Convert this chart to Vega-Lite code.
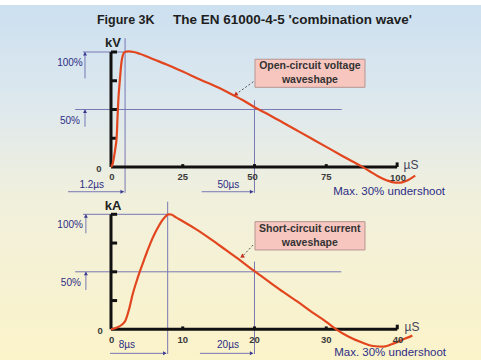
{
  "$schema": "https://vega.github.io/schema/vega-lite/v6.json",
  "background": "white",
  "padding": 0,
  "spacing": 0,
  "bounds": "flush",
  "config": {
    "view": {"stroke": null},
    "text": {"font": "Liberation Sans"}
  },
  "datasets": {
    "v_curve": [
      {"t": 0, "v": 0}, {"t": 0.5, "v": 2}, {"t": 1, "v": 8}, {"t": 1.5, "v": 16}, {"t": 2, "v": 27},
      {"t": 2.3, "v": 45}, {"t": 2.6, "v": 60}, {"t": 3.1, "v": 76}, {"t": 3.6, "v": 90}, {"t": 4.1, "v": 97},
      {"t": 4.8, "v": 100}, {"t": 6, "v": 100.5}, {"t": 8, "v": 100}, {"t": 10, "v": 98.5}, {"t": 15, "v": 93.5},
      {"t": 20, "v": 88.5}, {"t": 25, "v": 83}, {"t": 31, "v": 76}, {"t": 37, "v": 69.5}, {"t": 42.5, "v": 62.6},
      {"t": 46, "v": 58}, {"t": 50, "v": 52}, {"t": 55, "v": 45.5}, {"t": 60, "v": 38.5}, {"t": 65, "v": 31.5},
      {"t": 70, "v": 24.5}, {"t": 75, "v": 17.5}, {"t": 80, "v": 10.5}, {"t": 84, "v": 5}, {"t": 87.5, "v": 0.3},
      {"t": 90, "v": -3.5}, {"t": 93, "v": -8}, {"t": 96, "v": -11.5}, {"t": 99, "v": -13.5}, {"t": 101, "v": -13.5},
      {"t": 103, "v": -12}, {"t": 106, "v": -7.5}
    ],
    "v_black": [
      {"t": 0, "v": 0, "t2": 0, "v2": 100},
      {"t": 0, "v": 100, "t2": 2.1, "v2": 100},
      {"t": 0, "v": 75, "t2": 2.1, "v2": 75},
      {"t": 0, "v": 50, "t2": 2.1, "v2": 50},
      {"t": 0, "v": 25, "t2": 2.1, "v2": 25},
      {"t": 0, "v": 0, "t2": 99.7, "v2": 0},
      {"t": 25, "v": 0, "t2": 25, "v2": 2.5},
      {"t": 50, "v": 0, "t2": 50, "v2": 2.5},
      {"t": 75, "v": 0, "t2": 75, "v2": 2.5},
      {"t": 99.7, "v": 0, "t2": 99.7, "v2": 4}
    ],
    "v_blue": [
      {"t": 4.9, "v": -22.5, "t2": 4.9, "v2": 112},
      {"t": 50, "v": -22.5, "t2": 50, "v2": 58},
      {"t": -9.75, "v": 100, "t2": 4.9, "v2": 100},
      {"t": -12.5, "v": 50, "t2": 80.4, "v2": 50},
      {"t": -9.06, "v": 100, "t2": -9.06, "v2": 77},
      {"t": -9.06, "v": 50, "t2": -9.06, "v2": 35},
      {"t": -15, "v": -21.5, "t2": 4.5, "v2": -21.5},
      {"t": 31.6, "v": -21.5, "t2": 49.6, "v2": -21.5}
    ],
    "v_arrows": [
      {"t": -9.06, "v": 98.5, "dir": "up"},
      {"t": -9.06, "v": 48.5, "dir": "up"},
      {"t": 3.9, "v": -21.5, "dir": "right"},
      {"t": 49, "v": -21.5, "dir": "right"}
    ],
    "v_box": [{"t": 50.17, "v": 93.7, "t2": 88.5, "v2": 69.3}],
    "v_link": [{"t": 49.6, "v": 74.2, "t2": 43.6, "v2": 63.4}],
    "v_tip": [{"t": 43.4, "v": 63}],
    "v_boxtext": [
      {"t": 69.3, "v": 87.6, "text": "Open-circuit voltage"},
      {"t": 69.3, "v": 75.4, "text": "waveshape"}
    ],
    "v_title1": [{"t": -4.9, "v": 127.8, "text": "Figure 3K"}],
    "v_title2": [{"t": 21.6, "v": 127.8, "text": "The EN 61000-4-5 'combination wave'"}],
    "v_unit": [{"t": 0.7, "v": 107.8, "text": "kV"}],
    "v_pct": [
      {"t": -14.3, "v": 90.4, "text": "100%"},
      {"t": -14.3, "v": 40, "text": "50%"},
      {"t": -6.7, "v": -15.7, "text": "1.2µs"},
      {"t": 40.9, "v": -15.7, "text": "50µs"}
    ],
    "v_ticks": [
      {"t": -4.2, "v": -1.7, "text": "0"},
      {"t": 0.3, "v": -8.7, "text": "0"},
      {"t": 25, "v": -8.7, "text": "25"},
      {"t": 49.3, "v": -8.7, "text": "50"},
      {"t": 75, "v": -8.7, "text": "75"},
      {"t": 100, "v": -9.2, "text": "100"}
    ],
    "v_unitx": [{"t": 104.5, "v": 1.7, "text": "µS"}],
    "v_note": [{"t": 96.9, "v": -21.5, "text": "Max. 30% undershoot"}],

    "c_curve": [
      {"t": 0, "v": 0}, {"t": 1, "v": 2}, {"t": 1.5, "v": 4}, {"t": 2, "v": 7.5}, {"t": 2.5, "v": 17},
      {"t": 3, "v": 30}, {"t": 3.5, "v": 40.5}, {"t": 4, "v": 50}, {"t": 4.5, "v": 58.5}, {"t": 5, "v": 67},
      {"t": 5.5, "v": 75}, {"t": 6, "v": 82}, {"t": 6.5, "v": 88}, {"t": 7, "v": 93.5}, {"t": 7.5, "v": 97.5},
      {"t": 8, "v": 100}, {"t": 8.4, "v": 99.8}, {"t": 9, "v": 97.5}, {"t": 10, "v": 94}, {"t": 12, "v": 86.5},
      {"t": 14, "v": 78}, {"t": 16, "v": 69}, {"t": 18, "v": 60}, {"t": 20, "v": 50.5}, {"t": 22, "v": 41.5},
      {"t": 24, "v": 32.5}, {"t": 26, "v": 24}, {"t": 28, "v": 15}, {"t": 30, "v": 6.5}, {"t": 31.4, "v": 0},
      {"t": 33, "v": -6}, {"t": 35, "v": -11.5}, {"t": 36.5, "v": -14.5}, {"t": 38, "v": -15}, {"t": 39.5, "v": -12},
      {"t": 41, "v": -8}, {"t": 42, "v": -5.5}
    ],
    "c_black": [
      {"t": 0, "v": 0, "t2": 0, "v2": 100},
      {"t": 0, "v": 100, "t2": 0.85, "v2": 100},
      {"t": 0, "v": 75, "t2": 0.85, "v2": 75},
      {"t": 0, "v": 50, "t2": 0.85, "v2": 50},
      {"t": 0, "v": 25, "t2": 0.85, "v2": 25},
      {"t": 0, "v": 0, "t2": 39.9, "v2": 0},
      {"t": 10, "v": 0, "t2": 10, "v2": 2.5},
      {"t": 20, "v": 0, "t2": 20, "v2": 2.5},
      {"t": 30, "v": 0, "t2": 30, "v2": 2.5},
      {"t": 39.9, "v": 0, "t2": 39.9, "v2": 4}
    ],
    "c_blue": [
      {"t": 7.9, "v": -21.5, "t2": 7.9, "v2": 111},
      {"t": 20, "v": -21.5, "t2": 20, "v2": 58.8},
      {"t": -3.9, "v": 100, "t2": 7.9, "v2": 100},
      {"t": -5, "v": 50, "t2": 32.1, "v2": 50},
      {"t": -3.5, "v": 100, "t2": -3.5, "v2": 83.5},
      {"t": -3.5, "v": 50, "t2": -3.5, "v2": 34.2},
      {"t": -0.14, "v": -20.9, "t2": 7.6, "v2": -20.9},
      {"t": 12.4, "v": -20.9, "t2": 19.7, "v2": -20.9}
    ],
    "c_arrows": [
      {"t": -3.5, "v": 98.5, "dir": "up"},
      {"t": -3.5, "v": 48.5, "dir": "up"},
      {"t": 7.5, "v": -20.9, "dir": "right"},
      {"t": 19.6, "v": -20.9, "dir": "right"}
    ],
    "c_box": [{"t": 20.07, "v": 93.6, "t2": 35.4, "v2": 69}],
    "c_link": [{"t": 19.8, "v": 73.3, "t2": 18.35, "v2": 63.6}],
    "c_tip": [{"t": 18.25, "v": 63.2}],
    "c_boxtext": [
      {"t": 27.7, "v": 87.2, "text": "Short-circuit current"},
      {"t": 27.7, "v": 75, "text": "waveshape"}
    ],
    "c_unit": [{"t": 0.28, "v": 107.4, "text": "kA"}],
    "c_pct": [
      {"t": -5.7, "v": 90.7, "text": "100%"},
      {"t": -5.6, "v": 40, "text": "50%"},
      {"t": 2.2, "v": -13.7, "text": "8µs"},
      {"t": 16.3, "v": -13.7, "text": "20µs"}
    ],
    "c_ticks": [
      {"t": -1.53, "v": -1.5, "text": "0"},
      {"t": 0.1, "v": -9.3, "text": "0"},
      {"t": 10, "v": -9.3, "text": "10"},
      {"t": 20, "v": -9.3, "text": "20"},
      {"t": 30, "v": -9.3, "text": "30"},
      {"t": 40, "v": -9.3, "text": "40"}
    ],
    "c_unitx": [{"t": 41.95, "v": 2, "text": "µS"}],
    "c_note": [{"t": 38.9, "v": -20.9, "text": "Max. 30% undershoot"}]
  },
  "vconcat": [
    {
      "width": 481,
      "height": 200,
      "view": {"fill": {"gradient": "linear", "x1": 0, "y1": 0, "x2": 0, "y2": 1, "stops": [{"offset": 0, "color": "#ffffff"}, {"offset": 0.024, "color": "#ffffff"}, {"offset": 0.026, "color": "#cce0f0"}, {"offset": 0.5, "color": "#dde8ee"}, {"offset": 1, "color": "#f1f0dc"}]}},
      "encoding": {
        "x": {"field": "t", "type": "quantitative", "scale": {"domain": [-38.676, 128.92], "nice": false, "zero": false}, "axis": null},
        "y": {"field": "v", "type": "quantitative", "scale": {"domain": [-28.696, 145.217], "nice": false, "zero": false}, "axis": null}
      },
      "layer": [
        {
          "data": {"name": "v_blue"},
          "mark": {"type": "rule", "color": "#7878b4", "strokeWidth": 1},
          "encoding": {"x2": {"field": "t2"}, "y2": {"field": "v2"}}
        },
        {
          "data": {"name": "v_arrows"},
          "mark": {"type": "point", "filled": true, "color": "#3a3a90", "size": 16, "opacity": 1},
          "encoding": {"shape": {"field": "dir", "type": "nominal", "scale": {"domain": ["up", "right"], "range": ["triangle-up", "triangle-right"]}, "legend": null}}
        },
        {
          "data": {"name": "v_black"},
          "mark": {"type": "rule", "color": "#111111", "strokeWidth": 3},
          "encoding": {"x2": {"field": "t2"}, "y2": {"field": "v2"}}
        },
        {
          "data": {"name": "v_curve"},
          "mark": {"type": "line", "color": "#e2461f", "strokeWidth": 2.2, "interpolate": "monotone"}
        },
        {
          "data": {"name": "v_box"},
          "mark": {"type": "rect", "fill": "#f6c6bf", "stroke": "#b89490", "strokeWidth": 1},
          "encoding": {"x2": {"field": "t2"}, "y2": {"field": "v2"}}
        },
        {
          "data": {"name": "v_link"},
          "mark": {"type": "rule", "color": "#555555", "strokeWidth": 1, "strokeDash": [2, 2]},
          "encoding": {"x2": {"field": "t2"}, "y2": {"field": "v2"}}
        },
        {
          "data": {"name": "v_tip"},
          "mark": {"type": "point", "shape": "triangle-up", "angle": 235, "filled": true, "color": "#c0301a", "size": 22, "opacity": 1}
        },
        {
          "data": {"name": "v_boxtext"},
          "mark": {"type": "text", "fontSize": 10.5, "fontWeight": "bold", "color": "#333333", "align": "center", "baseline": "middle"},
          "encoding": {"text": {"field": "text"}}
        },
        {
          "data": {"name": "v_title1"},
          "mark": {"type": "text", "fontSize": 12.5, "fontWeight": "bold", "color": "#1e1e1e", "align": "left", "baseline": "middle"},
          "encoding": {"text": {"field": "text"}}
        },
        {
          "data": {"name": "v_title2"},
          "mark": {"type": "text", "fontSize": 13.5, "fontWeight": "bold", "color": "#1e1e1e", "align": "left", "baseline": "middle"},
          "encoding": {"text": {"field": "text"}}
        },
        {
          "data": {"name": "v_unit"},
          "mark": {"type": "text", "fontSize": 13, "fontWeight": "bold", "color": "#222222", "align": "center", "baseline": "middle"},
          "encoding": {"text": {"field": "text"}}
        },
        {
          "data": {"name": "v_pct"},
          "mark": {"type": "text", "fontSize": 10, "color": "#2d2d86", "align": "center", "baseline": "middle"},
          "encoding": {"text": {"field": "text"}}
        },
        {
          "data": {"name": "v_ticks"},
          "mark": {"type": "text", "fontSize": 9.5, "fontWeight": "bold", "color": "#3a3a3a", "align": "center", "baseline": "middle"},
          "encoding": {"text": {"field": "text"}}
        },
        {
          "data": {"name": "v_unitx"},
          "mark": {"type": "text", "fontSize": 12, "color": "#44445a", "align": "center", "baseline": "middle"},
          "encoding": {"text": {"field": "text"}}
        },
        {
          "data": {"name": "v_note"},
          "mark": {"type": "text", "fontSize": 11.5, "color": "#2d2d86", "align": "center", "baseline": "middle"},
          "encoding": {"text": {"field": "text"}}
        }
      ]
    },
    {
      "width": 481,
      "height": 160,
      "view": {"fill": {"gradient": "linear", "x1": 0, "y1": 0, "x2": 0, "y2": 1, "stops": [{"offset": 0, "color": "#f1f0dc"}, {"offset": 1, "color": "#fbf3c9"}]}},
      "encoding": {
        "x": {"field": "t", "type": "quantitative", "scale": {"domain": [-15.47, 51.568], "nice": false, "zero": false}, "axis": null},
        "y": {"field": "v", "type": "quantitative", "scale": {"domain": [-26.696, 112.435], "nice": false, "zero": false}, "axis": null}
      },
      "layer": [
        {
          "data": {"name": "c_blue"},
          "mark": {"type": "rule", "color": "#7878b4", "strokeWidth": 1},
          "encoding": {"x2": {"field": "t2"}, "y2": {"field": "v2"}}
        },
        {
          "data": {"name": "c_arrows"},
          "mark": {"type": "point", "filled": true, "color": "#3a3a90", "size": 16, "opacity": 1},
          "encoding": {"shape": {"field": "dir", "type": "nominal", "scale": {"domain": ["up", "right"], "range": ["triangle-up", "triangle-right"]}, "legend": null}}
        },
        {
          "data": {"name": "c_black"},
          "mark": {"type": "rule", "color": "#111111", "strokeWidth": 3},
          "encoding": {"x2": {"field": "t2"}, "y2": {"field": "v2"}}
        },
        {
          "data": {"name": "c_curve"},
          "mark": {"type": "line", "color": "#e2461f", "strokeWidth": 2.2, "interpolate": "monotone"}
        },
        {
          "data": {"name": "c_box"},
          "mark": {"type": "rect", "fill": "#f6c6bf", "stroke": "#b89490", "strokeWidth": 1},
          "encoding": {"x2": {"field": "t2"}, "y2": {"field": "v2"}}
        },
        {
          "data": {"name": "c_link"},
          "mark": {"type": "rule", "color": "#555555", "strokeWidth": 1, "strokeDash": [2, 2]},
          "encoding": {"x2": {"field": "t2"}, "y2": {"field": "v2"}}
        },
        {
          "data": {"name": "c_tip"},
          "mark": {"type": "point", "shape": "triangle-up", "angle": 235, "filled": true, "color": "#c0301a", "size": 22, "opacity": 1}
        },
        {
          "data": {"name": "c_boxtext"},
          "mark": {"type": "text", "fontSize": 10.5, "fontWeight": "bold", "color": "#333333", "align": "center", "baseline": "middle"},
          "encoding": {"text": {"field": "text"}}
        },
        {
          "data": {"name": "c_unit"},
          "mark": {"type": "text", "fontSize": 13, "fontWeight": "bold", "color": "#222222", "align": "center", "baseline": "middle"},
          "encoding": {"text": {"field": "text"}}
        },
        {
          "data": {"name": "c_pct"},
          "mark": {"type": "text", "fontSize": 10, "color": "#2d2d86", "align": "center", "baseline": "middle"},
          "encoding": {"text": {"field": "text"}}
        },
        {
          "data": {"name": "c_ticks"},
          "mark": {"type": "text", "fontSize": 9.5, "fontWeight": "bold", "color": "#3a3a3a", "align": "center", "baseline": "middle"},
          "encoding": {"text": {"field": "text"}}
        },
        {
          "data": {"name": "c_unitx"},
          "mark": {"type": "text", "fontSize": 12, "color": "#44445a", "align": "center", "baseline": "middle"},
          "encoding": {"text": {"field": "text"}}
        },
        {
          "data": {"name": "c_note"},
          "mark": {"type": "text", "fontSize": 11.5, "color": "#2d2d86", "align": "center", "baseline": "middle"},
          "encoding": {"text": {"field": "text"}}
        }
      ]
    }
  ]
}
